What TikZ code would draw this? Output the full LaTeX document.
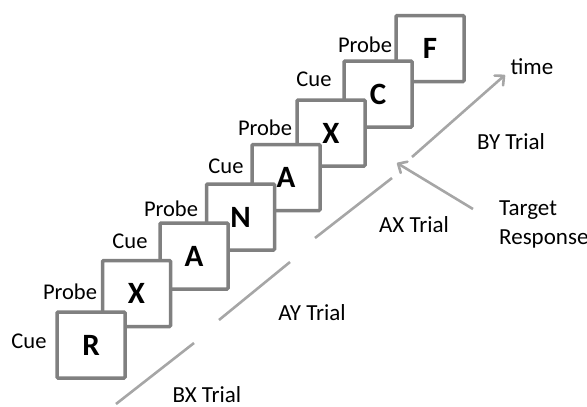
\documentclass[tikz,border=0pt]{standalone}
\usepackage{fontspec}
\setmainfont{Carlito}
\usetikzlibrary{arrows.meta}
\definecolor{boxgray}{HTML}{808080}
\definecolor{linegray}{HTML}{A6A6A6}

\begin{document}
\begin{tikzpicture}[x=1pt,y=-1pt,>={Straight Barb[length=7pt,width=13pt,round]}]
  \tikzstyle{frame}=[rectangle,draw=boxgray,line width=3.5pt,fill=white,
                     rounded corners=1pt,minimum width=68pt,minimum height=66pt,
                     font=\fontsize{31}{31}\selectfont\bfseries]
  \tikzstyle{phase}=[font=\fontsize{22.5}{22.5}\selectfont,inner sep=0pt]
  \tikzstyle{trial}=[font=\fontsize{23}{29}\selectfont,inner sep=0pt]
  \tikzstyle{timeline}=[draw=linegray,line width=2.6pt]

  \useasboundingbox (0,0) rectangle (587,407);

  % stimuli, last one drawn first
  \node [frame] (f)  at (430,48.5)  {F};
  \node [frame] (c)  at (378,94)    {C};
  \node [frame] (x2) at (331,133)   {X};
  \node [frame] (a2) at (286,177.5) {A};
  \node [frame] (n)  at (240.5,217) {N};
  \node [frame] (a1) at (194,256)   {A};
  \node [frame] (x1) at (136.5,293.5) {X};
  \node [frame] (r)  at (91,345)    {R};

  \node [phase] (cue1)   at (29,341)  {Cue};
  \node [phase] (probe1) at (70,292)  {Probe};
  \node [phase] (cue2)   at (130,241) {Cue};
  \node [phase] (probe2) at (171,209) {Probe};
  \node [phase] (cue3)   at (226,166) {Cue};
  \node [phase] (probe3) at (265,128) {Probe};
  \node [phase] (cue4)   at (314,79)  {Cue};
  \node [phase] (probe4) at (365,45)  {Probe};

  % time axis, split by trial
  \coordinate (bx1) at (116,404);
  \coordinate (bx2) at (194,343);
  \coordinate (ay1) at (219,320);
  \coordinate (ay2) at (290,262);
  \coordinate (ax1) at (315,238);
  \coordinate (ax2) at (392,178);
  \coordinate (by1) at (412,157);
  \coordinate (by2) at (505,75);
  \draw [timeline] (bx1) -- (bx2);
  \draw [timeline] (ay1) -- (ay2);
  \draw [timeline] (ax1) -- (ax2);
  \draw [timeline,->] (by1) -- (by2);

  \node [trial] (bx)   at (207,395) {BX Trial};
  \node [trial] (ay)   at (312,313) {AY Trial};
  \node [trial] (ax)   at (414,225) {AX Trial};
  \node [trial] (by)   at (511,142) {BY Trial};
  \node [trial] (time) at (532,67)  {time};
  \node [trial,align=left,anchor=west] (resp) at (499,224) {Target\\Response};

  \coordinate (tstart) at (473,209);
  \coordinate (hit) at (397,163);
  \draw [timeline,->] (tstart) -- (hit);
\end{tikzpicture}
\end{document}
